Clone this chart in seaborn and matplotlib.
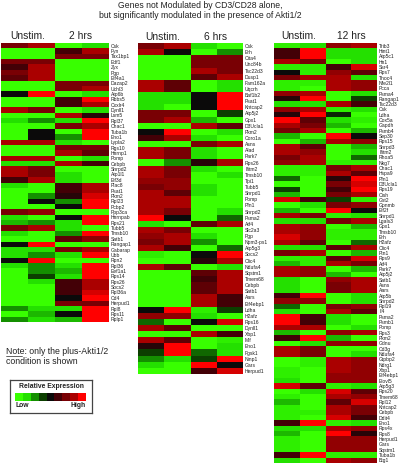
# -*- coding: utf-8 -*-
"""Three expression heatmaps: unstimulated vs 2, 6 and 12 hrs, plus Akti1/2."""
import matplotlib
matplotlib.use("Agg")
import matplotlib.pyplot as plt
import numpy as np
import seaborn as sns
from matplotlib.colors import LinearSegmentedColormap
from matplotlib.lines import Line2D

genes_2h = ["Csk", "Fyn", "Tax1bp1", "Edf1", "Zyx", "Pgp", "Eif4a1", "Dazap2", "Uchl3", "Atp6b",
            "Rbbs5", "Cxxlr4", "Dynll1", "Lsm5", "Rpl37", "Chac1", "Tuba1b", "Eno1", "Lypla2", "Rgs10",
            "Hnrnp1", "Pomp", "Cebpb", "Snrpd2", "Atp1l1", "Eif3d", "Plac8", "Psat1", "Pkm2", "Rpl23",
            "Pcbp2", "Ppp3ca", "Hnrnpab", "Rps21", "Tubb5", "Tmsb10", "Satb1", "Rangap1", "Gabarap", "Ubb",
            "Rpn2", "Rpl36", "Eef1a1", "Rps14", "Rps26", "Socs2", "Rpl36a", "Cd4", "Herpud1", "Rpl8",
            "Rps11", "Rplp1"]
values_2h = [[2, 3, -4, -3], [-4, -4, 1, 3], [-4, -4, 2, 2], [2, 2, -4, -4], [1, 3, -4, -4],
             [2, 3, -4, -4], [1.5, 3, -4, -4], [-4, -4, 2, 2], [-4, -4, 2, 3], [0, 4, -4, -3],
             [-4, -4, 1, 4], [-4, -4, 1, 3], [3, 2, -4, -3], [-4, -4, 3, 0.5], [-3, -2, -3, 4],
             [-4, -4, 2, 3], [-4, 0, -4, 4], [-4, 0, -2, 4], [3, 3, -3, -4], [-4, -4, 2, 2],
             [-4, -4, 3, 1.5], [3, 3, -4, -3], [-3, -3, 3, 1], [3, 2, -4, -4], [3, 2, -3, -4],
             [1, 3, -3, -4], [-3, -4, 1, 3], [-4, -4, 1, 3], [-4, -2, 0.5, 3.5], [-4, 0, -2, 4],
             [-4, -4, 0, 4], [2, 2.5, -4, -4], [-3, -4, 0, 4], [-2.5, -2, -3, 4], [2, 3, -3, -4],
             [-3, -4, -2, 4], [-4, -4, 1.5, 2.5], [0, 4, -4, -4], [-3, -3, 2, 3], [-3, -2, -3, 4],
             [0, 4, -4, -4], [-3, -2, -3, 4], [-4, -2, -2.5, 4], [-4, -1, -3, 4], [-4, -3, 1, 3],
             [-4, -4, 1, 3], [-4, -4, 1, 3.5], [-4, -4, 0, 4], [-4, -4, 2, 2], [-2, -3, -3, 4],
             [-4, -2.5, 0, 4], [-2, -3, -2.5, 4]]

genes_6h = ["Csk", "Erh", "Cita4", "Unc84b", "Tsc22d3", "Dusp1", "Fam162a", "Uqcrh", "Baf1b2", "Psat1",
            "Kntcap2", "Atp5j2", "Gpx1", "D3Ucla1", "Pkm2", "Coro1a", "Asns", "Alad", "Park7", "Rps26",
            "Ifitm2", "Tmsb10", "Tpi1", "Tubb5", "Snrpd1", "Pomp", "Pfn1", "Snrpd2", "Psma2", "Atf4",
            "Slc2a3", "Pgp", "Npm3-ps1", "Atp5g3", "Socs2", "Clic4", "Ndufa4", "Sqstm1", "Tmem68", "Cebpb",
            "Satb1", "Aars", "Eif4ebp1", "Ldha", "H2afz", "Rps16", "Dynll1", "Xbp1", "Mif", "Eno1",
            "Fgsk1", "Ninp1", "Gars", "Herpud1"]
values_6h = [[2, 3, -3, -4], [3, 0, -4, -2], [-4, -4, 2, 2], [-4, -4, 2, 2], [-4, -4, 3, 2],
             [-4, -4, 1.5, 3], [3, 1.5, -4, -3], [3, 1.5, -4, -3], [-3, -3, 0, 4], [-3, -3, 0, 4],
             [-3, -4, 0, 4], [2, 2, -4, -1], [2, 3, -2.5, -4], [-4, -4, 3, 1.5], [0, 4, -4, -3],
             [1, 3, -3, -4], [-4, -4, 2, 3], [3, 2, -3, -4], [3, 2, -3, -4], [-4, -2, 0.5, 3],
             [3, 2, -3, -4], [3, 2, -4, -3], [2.5, 2.5, -4, -4], [2, 2.5, -3, -4], [3, 1.5, -3, -4],
             [3, 3, -4, -4], [3, 3, -4, -4], [3, 2, -4, -3], [4, 0, -4, -1.5], [-3, -4, 1.5, 3],
             [3, 2, -4, -4], [2.5, 3, -3, -4], [2, 3, -2, -4], [3, 1, -4, -1.5], [-3.5, -4, 0, 4],
             [-4, -4, 0.5, 3], [3, 1.5, -4, -3], [-4, -4, 1.5, 3], [-4, -4, 1, 3], [-4, -4, 1.5, 3],
             [-4, -4, 1.5, 3], [-4, -4, 3, 1], [-4, -4, 3, 1], [0, 4, -3.5, -1], [2.5, 2.5, -3, -4],
             [-1.5, -4, 0, 3.5], [3, 1.5, -4, -4], [-4, -4, 3, 1], [3, 1.5, -4, -3.5], [0.5, 4, -4, -3],
             [-1, 4, -1.5, -3], [-2, -3, -1, 4], [-3, -4, 4, 0], [-4, -4, 1, 3.5]]

genes_12h = ["Trib3", "Hint1", "Atp5c1", "Hn1", "Ssr4", "Rps7", "Thoc4", "Nfe2l1", "Pcca", "Psma4",
             "Rangap1", "Tsc22d3", "Csk", "Ldha", "Cox5a", "Gapdh", "Psmb4", "Sep30", "Rps15", "Snrpd3",
             "Ifitm2", "Rhoa5", "Nkg7", "Chac1", "Hspa9", "Pfn1", "D3Ucla1", "Rps19", "Cish", "Gst2",
             "Gpnmb", "Eif2f", "Snrpd1", "Lgals3", "Gpx1", "Tmsb10", "Erh", "H2afz", "Clic4", "Ptn1",
             "Rps9", "Atf4", "Park7", "Atp5j2", "Satb1", "Asns", "Aars", "Atp5b", "Snrpd2", "Rpl19",
             "Il4", "Psma2", "Psmb1", "Pomp", "Rps3", "Pkm2", "Gdnu", "Cd3g", "Ndufa4", "Gtpbp2",
             "Ndrg1", "Xbp1", "Eif4ebp1", "Elovl5", "Atp5g3", "Rps20", "Tmem68", "Rpl12", "Kntcap2", "Cebpb",
             "Ddit4", "Eno1", "Rps4x", "Rps8", "Herpud1", "Gars", "Sqstm1", "Tuba1b", "Btg1"]
values_12h = [[-3.5, -3, 2.5, 3], [1, 4, -3, -3], [1, 4, -3, -3], [3, 2, -4, -3], [-3.5, -3.5, 1, 3.5],
              [0, -3.5, 2.5, 1.5], [2, 3, 3, -3], [-3.5, -3.5, 3, 2.5], [-3.5, -4, 3, 2.5], [2.5, 3, -4, -3],
              [0.5, 4, -4, -1], [-3, -3, 3, 1], [2.5, 3, -3.5, -3], [0.5, 4, -0.5, -4], [4, 1.5, -3, -3.5],
              [3, 2, -2.5, -4], [2, 3, -4, -2.5], [-2.5, -4, 4, 0], [-4, -2.5, 3, 2.5], [3, 1.5, -4, -2.5],
              [3, 2.5, -4, -3], [2, 3, -4, -1.5], [2.5, 3, -3.5, -3.5], [-3.5, -3.5, 2, 3], [-3.5, -3.5, 3, 1.5],
              [-1.5, -4, 0.5, 4], [-4, -4, 2, 3.5], [-1, -4, 1, 4], [-2.5, -4, 2, 3], [3.5, 1, -1, -3.5],
              [-4, -3, 2, 2.5], [-2.5, -4, 4, 0], [3, 2, -3.5, -3], [-3, -3, 2, 3], [3, 2.5, -4, -2.5],
              [3, 2.5, -3.5, -3.5], [3.5, 2.5, -3.5, -3.5], [3, 1.5, -4, -1.5], [-3, -3, 1.5, 3], [2, 3, -4, -2.5],
              [-3.5, -3.5, 1.5, 3.5], [-2.5, -3.5, 3, 2], [3, 2.5, -4, -2.5], [3, 2.5, -2.5, -4], [-3, -4, 2.5, 3],
              [-3, -4, 2, 3], [-3, -4, 2, 3], [1, 4, -4, -3], [2.5, 2.5, -4, -3], [-1.5, -4, 2, 2.5],
              [-3, -4, 3, 1.5], [4, 1, -3, -4], [4, 1, -3, -4], [3, 3, -4, -3], [-2.5, -4, 2.5, 3],
              [1, 4, -2.5, -4], [-4, -3, 2.5, 2.5], [3, 2, -4, -4], [3, 2, -4, -3], [-4, -3.5, 3, 2.5],
              [-4, -3.5, 3, 2.5], [-3.5, -4, 3, 2.5], [-3.5, -4, 2.5, 2.5], [-3, -4, 2.5, 2.5], [3.5, 1.5, -3.5, -3],
              [-4, -3, 3.5, 1.5], [-3.5, -4, 3, 2.5], [-2.5, -4, 1.5, 3.5], [-3.5, -4, 3, 2], [-3.5, -3.5, 3, 2],
              [-3.5, -4, 3.5, 1], [1, 4, -3.5, -3], [-3, -3, 3, 2.5], [-2.5, -4, 4, 0.5], [-3.5, -4, 2.5, 2.5],
              [-3.5, -4, 2.5, 2.5], [-3.5, -4, 2.5, 2.5], [1, 4, -3.5, -3.5], [-3, -4, 3, 2.5]]

legend_values = [-4, -3, -2, -1, 0, 1, 2, 3, 4]

W, H = 400, 466
sns.set_theme(style="white")
plt.rcParams["font.family"] = ["Liberation Sans", "DejaVu Sans"]

cmap = LinearSegmentedColormap.from_list(
    "green_red", [(0, "#38ff00"), (0.125, "#24e000"), (0.25, "#149000"), (0.375, "#0c4000"),
                  (0.5, "#0a0a0a"), (0.625, "#420006"), (0.75, "#780004"), (0.875, "#a80000"),
                  (1, "#ff0000")])


def px_axes(fig, x0, y0, x1, y1):
    # pixel box of the reference, origin top left
    return fig.add_axes([x0 / W, 1 - y1 / H, (x1 - x0) / W, (y1 - y0) / H])


def panel(fig, box, genes, values):
    ax = px_axes(fig, *box)
    sns.heatmap(np.array(values), ax=ax, cmap=cmap, vmin=-4, vmax=4, cbar=False,
                xticklabels=False, yticklabels=genes)
    ax.yaxis.tick_right()
    ax.tick_params(axis="y", length=0, pad=1.5, labelsize=3.6, labelrotation=0, colors="#222222")
    return ax


def px_text(fig, x, y, s, **kw):
    fig.text(x / W, 1 - y / H, s, va="center", color="#222222", **kw)


fig = plt.figure(figsize=(W / 100, H / 100), dpi=100)

panel(fig, (1, 43, 109, 322), genes_2h, values_2h)
panel(fig, (138, 43, 243, 374), genes_6h, values_6h)
panel(fig, (274, 43, 377, 463), genes_12h, values_12h)

px_text(fig, 200, 6, "Genes not Modulated by CD3/CD28 alone,", ha="center", fontsize=6.25)
px_text(fig, 200, 15, "but significantly modulated in the presence of Akti1/2", ha="center", fontsize=6.25)

for x, y, s in [(28, 36, "Unstim."), (81, 36, "2 hrs"), (163, 37, "Unstim."), (216, 37, "6 hrs"),
                (299, 36, "Unstim."), (351, 36, "12 hrs")]:
    px_text(fig, x, y, s, ha="center", fontsize=7.4)

px_text(fig, 6, 352, "Note: only the plus-Akti1/2", ha="left", fontsize=6.3)
px_text(fig, 6, 361, "condition is shown", ha="left", fontsize=6.3)
fig.add_artist(Line2D([6 / W, 22 / W], [1 - 356 / H, 1 - 356 / H], color="#222222", lw=0.5))

# legend box
box = px_axes(fig, 10, 380, 92, 413)
box.set_xticks([])
box.set_yticks([])
for spine in box.spines.values():
    spine.set_visible(True)
    spine.set_color("#444444")
    spine.set_linewidth(0.9)

bar = px_axes(fig, 15, 393, 86, 401)
sns.heatmap(np.array([legend_values]), ax=bar, cmap=cmap, vmin=-4, vmax=4, cbar=False,
            xticklabels=False, yticklabels=False)

px_text(fig, 51, 386.5, "Relative Expression", ha="center", fontsize=4.9, fontweight="bold")
px_text(fig, 15, 405.5, "Low", ha="left", fontsize=4.9, fontweight="bold")
px_text(fig, 86, 405.5, "High", ha="right", fontsize=4.9, fontweight="bold")

fig.savefig("out.png", dpi=100)
plt.close(fig)
